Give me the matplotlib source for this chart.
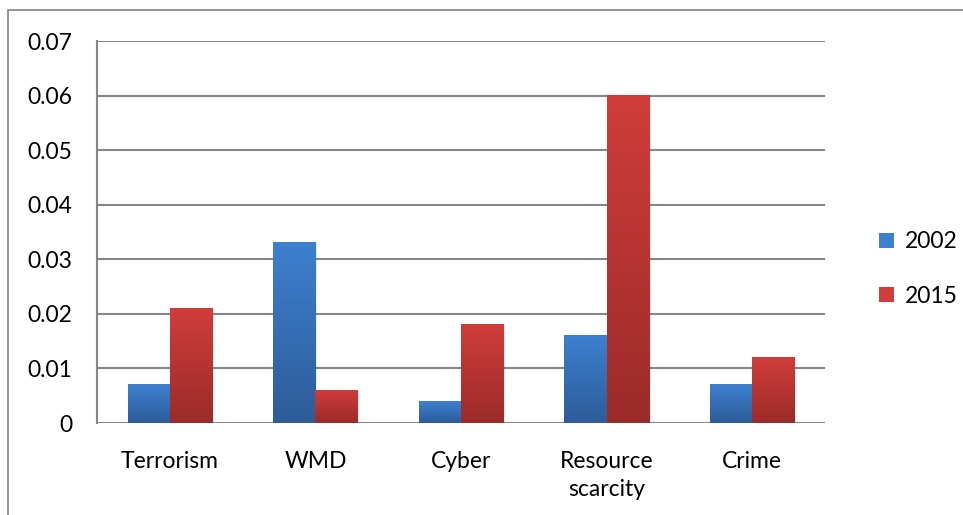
import matplotlib
matplotlib.use("Agg")
import matplotlib.pyplot as plt
import matplotlib.patches as mpatches
from matplotlib.colors import LinearSegmentedColormap
import numpy as np

categories = ["Terrorism", "WMD", "Cyber", "Resource\nscarcity", "Crime"]
years = ["2002", "2015"]
vals_2002 = [0.007, 0.033, 0.004, 0.016, 0.007]
vals_2015 = [0.021, 0.006, 0.018, 0.060, 0.012]

# top -> bottom gradient colours per series
grad = {
    "2002": ("#3d80d0", "#2d5c99"),
    "2015": ("#d03d3a", "#9b2b29"),
}

plt.rcParams["font.family"] = ["Lato", "DejaVu Sans"]

W, H = 963, 515
fig = plt.figure(figsize=(W / 100, H / 100), dpi=100, facecolor="white")

# outer chart frame (runs off the right and bottom edges)
fig.patches.append(mpatches.Rectangle((8 / W, -0.05), 1.1, 1.05 - 10 / H,
                                      transform=fig.transFigure, fill=False,
                                      edgecolor="#8c8c8c", linewidth=1.3))

ax = fig.add_axes([97 / W, 1 - 423 / H, (825 - 97) / W, (423 - 41) / H])

x = np.arange(len(categories))
bw = 0.29
series = [("2002", vals_2002, -bw / 2), ("2015", vals_2015, bw / 2)]

for name, vals, off in series:
    cmap = LinearSegmentedColormap.from_list(name, [grad[name][1], grad[name][0]])
    bars = ax.bar(x + off, vals, bw, color="none", edgecolor="none", zorder=3)
    for b in bars:
        x0, y0 = b.get_x(), b.get_y()
        w, h = b.get_width(), b.get_height()
        # soft shadow to the right
        ax.add_patch(mpatches.Rectangle((x0 + 0.012, y0), w, h, facecolor="#000000",
                                        alpha=0.07, edgecolor="none", zorder=2.5))
        g = np.linspace(0, 1, 256).reshape(-1, 1)
        ax.imshow(g, cmap=cmap, origin="lower", aspect="auto",
                  extent=(x0, x0 + w, y0, y0 + h), zorder=3)
ax.set_xlim(-0.5, len(categories) - 0.5)
ax.set_ylim(0, 0.07)

ax.set_yticks(np.arange(0, 0.0701, 0.01))
ax.set_yticklabels(["0", "0.01", "0.02", "0.03", "0.04", "0.05", "0.06", "0.07"])
ax.set_xticks(x)
ax.set_xticklabels(categories, linespacing=1.45)
ax.tick_params(axis="both", length=0, labelsize=16.5, colors="black")
ax.tick_params(axis="y", pad=18)
ax.tick_params(axis="x", pad=20)

ax.yaxis.grid(True, color="#868686", linewidth=1.5, zorder=1)
ax.set_axisbelow(True)
for s in ["top", "right", "bottom"]:
    ax.spines[s].set_visible(False)
ax.spines["left"].set_color("#868686")
ax.spines["left"].set_linewidth(1.5)

handles = [mpatches.Patch(facecolor=grad[y][0], edgecolor="none") for y in years]
fig.legend(handles, years, loc="center left", bbox_to_anchor=(858 / W, 1 - 269 / H),
           frameon=False, fontsize=16.5, handlelength=0.65, handleheight=0.65,
           handletextpad=0.5, labelspacing=1.45)

fig.savefig("out.png", dpi=100, facecolor="white")
